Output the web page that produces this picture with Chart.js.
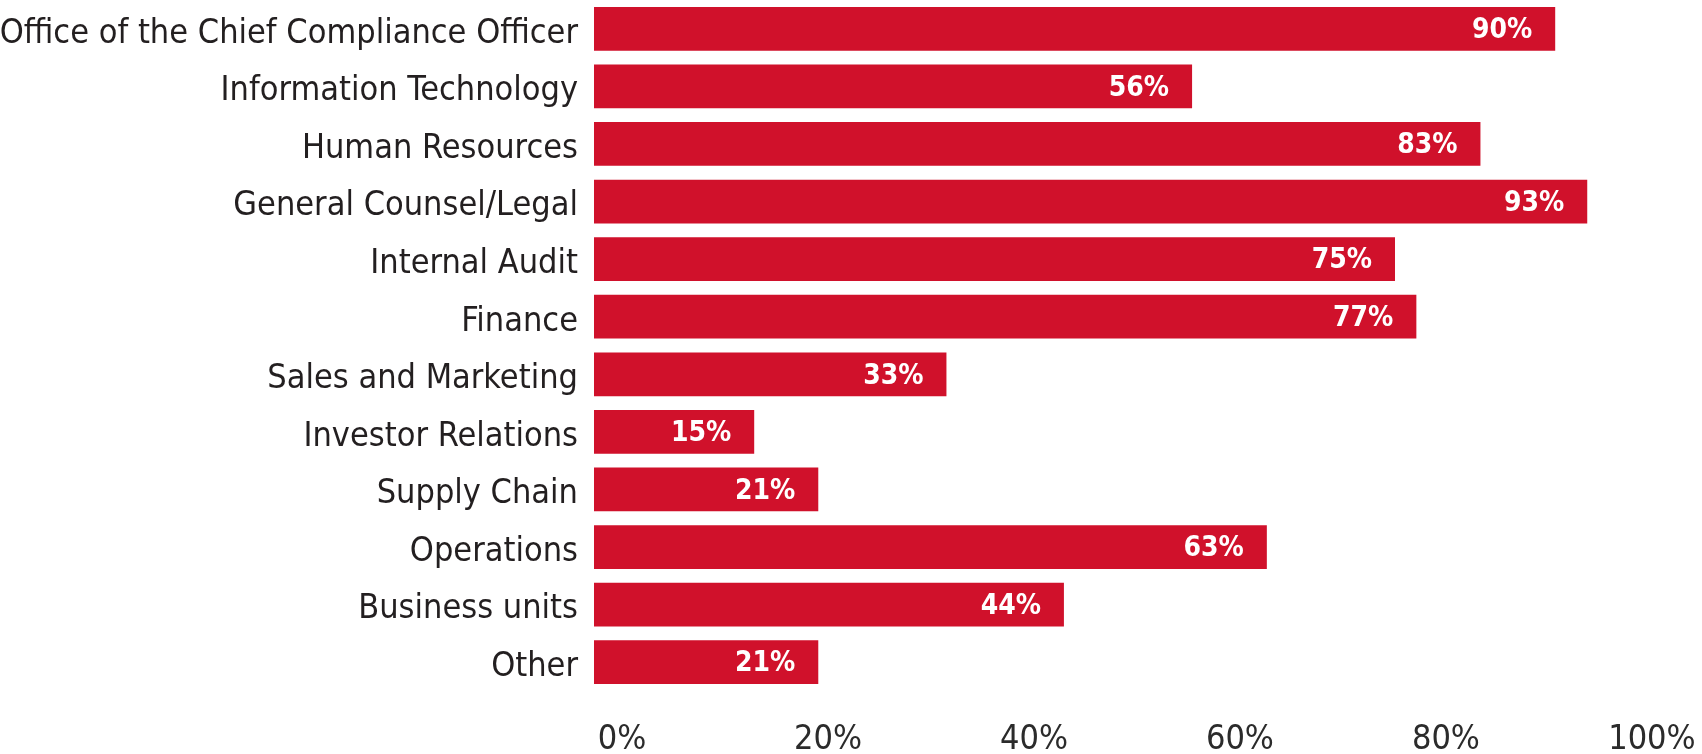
<!DOCTYPE html>
<html>
<head>
<meta charset="utf-8">
<title>Functions involved</title>
<script src="https://cdn.jsdelivr.net/npm/chart.js@4"></script>
<style>
    html, body { margin: 0; padding: 0; background: #ffffff; }
    #wrap { width: 1702px; height: 754px; position: relative; }
</style>
</head>
<body>
<div id="wrap"><canvas id="chart"></canvas></div>
<script>
// Chart data
const categories = [
    'Office of the Chief Compliance Officer',
    'Information Technology',
    'Human Resources',
    'General Counsel/Legal',
    'Internal Audit',
    'Finance',
    'Sales and Marketing',
    'Investor Relations',
    'Supply Chain',
    'Operations',
    'Business units',
    'Other'
];
const shares = [90, 56, 83, 93, 75, 77, 33, 15, 21, 63, 44, 21];
const tickValues = [0, 20, 40, 60, 80, 100];

const BAR_RED = '#d0112b';
const TEXT_DARK = '#231f20';
const FONT = '"DejaVu Sans Condensed", "Liberation Sans Narrow", "Liberation Sans", sans-serif';

// White value labels drawn inside the end of each bar
const barValueLabels = {
    id: 'barValueLabels',
    afterDatasetsDraw(chart) {
        const ctx = chart.ctx;
        const meta = chart.getDatasetMeta(0);
        ctx.save();
        ctx.fillStyle = '#ffffff';
        ctx.font = 'bold 28px ' + FONT;
        ctx.textAlign = 'right';
        ctx.textBaseline = 'middle';
        meta.data.forEach((bar, i) => {
            ctx.fillText(shares[i] + '%', bar.x - 23, bar.y + 2);
        });
        ctx.restore();
    }
};

const ctx = document.getElementById('chart').getContext('2d');
new Chart(ctx, {
    type: 'bar',
    data: {
        labels: categories,
        datasets: [{
            data: shares,
            backgroundColor: BAR_RED,
            borderWidth: 0,
            barPercentage: 0.76,
            categoryPercentage: 1.0
        }]
    },
    options: {
        indexAxis: 'y',
        responsive: true,
        maintainAspectRatio: false,
        animation: false,
        layout: { padding: { top: 0, right: 40, bottom: 0, left: 0 } },
        plugins: {
            legend: { display: false },
            tooltip: { enabled: false }
        },
        scales: {
            x: {
                display: false,
                min: 0,
                max: 100
            },
            // label axis: the printed tick labels sit slightly right of the bar scale
            x2: {
                position: 'bottom',
                min: -2.72,
                max: 100.98,
                grid: { display: false },
                border: { display: false },
                afterBuildTicks: (axis) => {
                    axis.ticks = tickValues.map(v => ({ value: v }));
                },
                afterFit: (axis) => {
                    axis.height = 63;
                    axis.paddingLeft = 0;
                    axis.paddingRight = 0;
                },
                ticks: {
                    padding: 21,
                    maxRotation: 0,
                    autoSkip: false,
                    color: '#2b2b2b',
                    font: { family: FONT, size: 34 },
                    callback: (v) => v + '%'
                }
            },
            y: {
                grid: { display: false },
                border: { display: false },
                afterFit: (axis) => {
                    axis.width = 594;
                    axis.paddingTop = 0;
                    axis.paddingBottom = 0;
                },
                ticks: {
                    padding: 8,
                    labelOffset: 5,
                    color: TEXT_DARK,
                    font: { family: FONT, size: 34 }
                }
            }
        }
    },
    plugins: [barValueLabels]
});
</script>
</body>
</html>
